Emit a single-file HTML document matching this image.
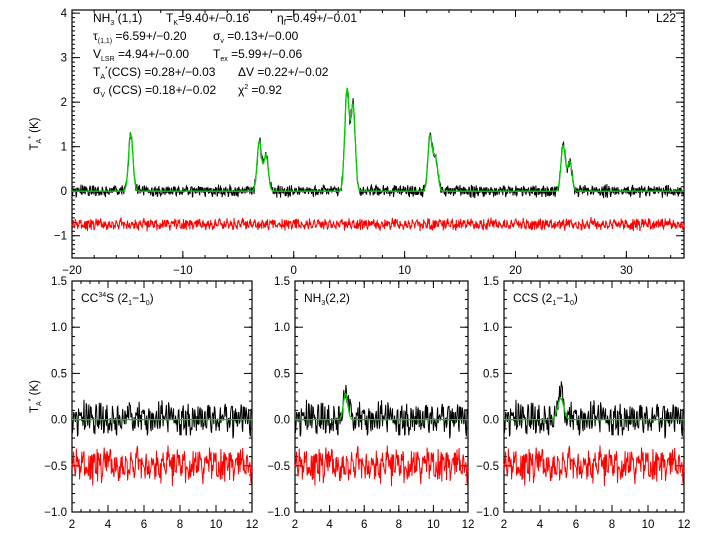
<!DOCTYPE html>
<html><head><meta charset="utf-8"><style>
html,body{margin:0;padding:0;background:#fff}
svg{display:block;font-family:"Liberation Sans",sans-serif}
</style></head><body>
<svg id="chart" width="720" height="540" viewBox="0 0 720 540"></svg>
<script>
// ---- data ----
const noiseVals=[0.05,-0.08,0.12,-0.03,0.07,-0.11,0.02,0.09,-0.06,0.14,-0.02,-0.09,0.04,0.11,-0.13,0.01,0.08,-0.05,0.1,-0.07,0.03,-0.12,0.06,0.13,-0.04,0.0,-0.1,0.09,-0.01,0.15,-0.08,0.05,-0.03,0.07,-0.14,0.02,0.11,-0.06,0.04,-0.09,0.12,-0.02,0.08,-0.11,0.01,0.06,-0.07,0.1,-0.04,0.03,-0.13,0.09,0.0,-0.05,0.14,-0.1,0.05,-0.01,0.07,-0.08,0.12,-0.03,0.02,-0.12,0.1,0.04,-0.06,0.08,-0.09,0.01,0.13,-0.02,-0.07,0.06,-0.11,0.09,0.03,-0.04,0.11,-0.08,0.0,0.05,-0.13,0.07,-0.01,0.1,-0.06,0.02,0.14,-0.1,0.04,-0.03,0.08,-0.12,0.06,0.01,-0.05,0.12,-0.09,0.03,-0.02,0.09,-0.07,0.11,-0.04,0.0,0.07,-0.11,0.05,-0.08,0.13,-0.01,0.02,-0.06,0.1,-0.03,0.08,-0.14,0.04,0.06,-0.09,0.01,0.12,-0.05,0.03,-0.1,0.09,-0.02];
// NH3(1,1) hyperfine fit: centres (km/s), heights (K)
const mainCenters=[-14.7,-3.1,-2.5,4.8,5.35,12.3,12.8,24.3,24.9];
const mainHeights=[1.28,1.12,0.82,2.25,1.9,1.22,0.72,1.02,0.66];
const mainWidth=0.2;
const mainResidOffset=-0.75;
const panelNames=["CC34S (2_1-1_0)","NH3(2,2)","CCS (2_1-1_0)"];
const panelPeakCenter=[5.0,4.92,5.15];
const panelPeakHeight=[0.0,0.28,0.23];
const panelPeakWidth=[0.15,0.13,0.17];
const panelResidOffset=-0.5;
const topXTicks=[-20,-10,0,10,20,30];
const topYTicks=[-1,0,1,2,3,4];
const botXTicks=[2,4,6,8,10,12];
const botYTicks=["-1.0","-0.5","0.0","0.5","1.0","1.5"];

const svg=document.getElementById('chart');
const NS='http://www.w3.org/2000/svg';
function el(tag,attrs,parent){const e=document.createElementNS(NS,tag);for(const k in attrs)e.setAttribute(k,attrs[k]);(parent||svg).appendChild(e);return e;}
function noise(i,s){return noiseVals[(i*s+Math.floor(i/128)*13)%128]+0.5*noiseVals[(i*(s+6)+37)%128];}

function axes(g,x0,x1,y0,y1,xmin,xmax,ymin,ymax,xt,yt,xminor,yminor,ylab){
  const sx=v=>x0+(v-xmin)/(xmax-xmin)*(x1-x0);
  const sy=v=>y1-(v-ymin)/(ymax-ymin)*(y1-y0);
  for(let v=Math.ceil(xmin/xminor)*xminor;v<=xmax+1e-9;v+=xminor){const x=sx(v);
    const t1=el('line',{x1:x,x2:x,y1:y1,y2:y1-3,stroke:'#000','stroke-width':1},g);
    const t2=el('line',{x1:x,x2:x,y1:y0,y2:y0+3,stroke:'#000','stroke-width':1},g);}
  for(let v=Math.ceil(ymin/yminor-1e-9)*yminor;v<=ymax+1e-9;v+=yminor){const y=sy(v);
    const t1=el('line',{x1:x0,x2:x0+3,y1:y,y2:y,stroke:'#000','stroke-width':1},g);
    const t2=el('line',{x1:x1,x2:x1-3,y1:y,y2:y,stroke:'#000','stroke-width':1},g);}
  xt.forEach(v=>{const x=sx(+v);
    el('line',{x1:x,x2:x,y1:y1,y2:y1-7,stroke:'#000'},g);el('line',{x1:x,x2:x,y1:y0,y2:y0+7,stroke:'#000'},g);
    const t=el('text',{x:x,y:y1+16,'font-size':11.5,'text-anchor':'middle'},g);t.textContent=String(v).replace('-','\u2212');
    });
  yt.forEach(v=>{const y=sy(+v);
    el('line',{x1:x0,x2:x0+8,y1:y,y2:y,stroke:'#000'},g);el('line',{x1:x1,x2:x1-8,y1:y,y2:y,stroke:'#000'},g);
    const t=el('text',{x:x0-5,y:y+4,'font-size':11.5,'text-anchor':'end'},g);t.textContent=String(v).replace('-','\u2212');
    });
  const f=el('rect',{x:x0,y:y0,width:x1-x0,height:y1-y0,fill:'none',stroke:'#000','stroke-width':1.2},g);
  
  if(ylab){const t=el('text',{transform:`translate(${x0-34},${(y0+y1)/2}) rotate(-90)`,'font-size':11.5,'text-anchor':'middle'},g);
    t.innerHTML='T<tspan font-size="7" dy="3">A</tspan><tspan font-size="7" dy="-8">*</tspan><tspan dy="5"> (K)</tspan>';
    }
  return [sx,sy];
}
function model(v,centers,heights,w){let s=0;for(let k=0;k<centers.length;k++){const d=(v-centers[k])/w;s+=heights[k]*Math.exp(-0.5*d*d);}return s;}
function drawSpectra(g,sx,sy,xmin,xmax,n,centers,heights,w,amp,resOff){
  let pd='',pf='',pr='';
  for(let i=0;i<=n;i++){const v=xmin+(xmax-xmin)*i/n;const m=model(v,centers,heights,w);
    const d=m+amp*noise(i,5);const r=resOff+amp*noise(i,11);
    pd+=(i?'L':'M')+sx(v).toFixed(1)+','+sy(d).toFixed(1);
    pf+=(i?'L':'M')+sx(v).toFixed(1)+','+sy(m).toFixed(1);
    pr+=(i?'L':'M')+sx(v).toFixed(1)+','+sy(r).toFixed(1);}
  const a=el('path',{d:pd,fill:'none',stroke:'#000','stroke-width':1},g);
  const b=el('path',{d:pf,fill:'none',stroke:'#00d000','stroke-width':1.3},g);
  const c=el('path',{d:pr,fill:'none',stroke:'#ff0000','stroke-width':1},g);
}
// ---- top panel ----
const gt=el('g',{});
let [sx,sy]=axes(gt,72,684,10,258,-20,35.2,-1.5,4.07,topXTicks,topYTicks,2,0.1,true);
drawSpectra(gt,sx,sy,-20,35.2,1500,mainCenters,mainHeights,mainWidth,0.75,mainResidOffset);
const txt=[
 [93,22,'NH<tspan font-size="7" dy="3">3</tspan><tspan dy="-3"> (1,1)</tspan>'],
 [166,22,'T<tspan font-size="7" dy="3">K</tspan><tspan dy="-3">=9.40+/\u22120.16</tspan>'],
 [277,22,'\u03B7<tspan font-size="8" dy="3">f</tspan><tspan dy="-3">=0.49+/\u22120.01</tspan>'],
 [93,40,'\u03C4<tspan font-size="7" dy="3">(1,1)</tspan><tspan dy="-3"> =6.59+/\u22120.20</tspan>'],
 [213,40,'\u03C3<tspan font-size="7" dy="3">v</tspan><tspan dy="-3"> =0.13+/\u22120.00</tspan>'],
 [93,58,'V<tspan font-size="7" dy="3">LSR</tspan><tspan dy="-3"> =4.94+/\u22120.00</tspan>'],
 [213,58,'T<tspan font-size="7" dy="3">ex</tspan><tspan dy="-3"> =5.99+/\u22120.06</tspan>'],
 [93,76,'T<tspan font-size="7" dy="3">A</tspan><tspan font-size="7" dy="-8">*</tspan><tspan dy="5">(CCS) =0.28+/\u22120.03</tspan>'],
 [238,76,'\u0394V =0.22+/\u22120.02'],
 [93,94,'\u03C3<tspan font-size="7" dy="3">V</tspan><tspan dy="-3"> (CCS) =0.18+/\u22120.02</tspan>'],
 [238,94,'\u03C7<tspan font-size="7" dy="-5">2</tspan><tspan dy="5"> =0.92</tspan>'],
];
txt.forEach(t=>{const e=el('text',{x:t[0],y:t[1],'font-size':12},gt);e.innerHTML=t[2];
  });
const lab=el('text',{x:676,y:22,'font-size':12,'text-anchor':'end'},gt);lab.textContent='L22';

// ---- bottom panels ----
const pX=[[72,252],[295,468],[504,684]];
const titles=['CC<tspan font-size="7" dy="-5">34</tspan><tspan dy="5">S (2</tspan><tspan font-size="7" dy="3">1</tspan><tspan dy="-3">\u22121</tspan><tspan font-size="7" dy="3">0</tspan><tspan dy="-3">)</tspan>',
 'NH<tspan font-size="7" dy="3">3</tspan><tspan dy="-3">(2,2)</tspan>',
 'CCS (2<tspan font-size="7" dy="3">1</tspan><tspan dy="-3">\u22121</tspan><tspan font-size="7" dy="3">0</tspan><tspan dy="-3">)</tspan>'];
for(let p=0;p<3;p++){
  const g=el('g',{});
  const [bx,by]=axes(g,pX[p][0],pX[p][1],281,512,2,12,-1.0,1.5,botXTicks,botYTicks,0.5,0.1,p===0);
  drawSpectra(g,bx,by,2,12,330,[panelPeakCenter[p]],[panelPeakHeight[p]],panelPeakWidth[p],1.1,panelResidOffset);
  const t=el('text',{x:pX[p][0]+9,y:302,'font-size':12},g);t.innerHTML=titles[p];
  
}
</script>
</body></html>
